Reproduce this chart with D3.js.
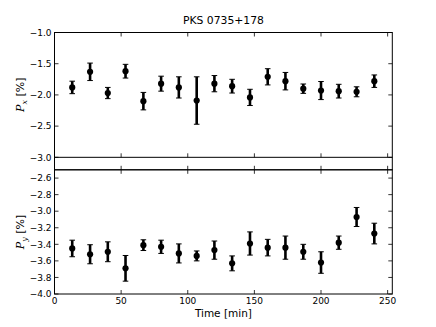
<!DOCTYPE html>
<html><head><meta charset="utf-8">
<script src="https://cdn.jsdelivr.net/npm/d3@7/dist/d3.min.js"></script>
<style>
body{margin:0;background:#fff;}
text{font-family:"DejaVu Sans",sans-serif;fill:#000;}
</style></head>
<body><svg id="c" width="436" height="327"></svg>
<script>
const times = [13.3, 26.7, 40, 53.3, 66.7, 80, 93.3, 106.7, 120, 133.3, 146.7, 160, 173.3, 186.7, 200, 213.3, 226.7, 240];
const px = [-1.88, -1.63, -1.97, -1.62, -2.10, -1.82, -1.88, -2.09, -1.82, -1.86, -2.04, -1.71, -1.78, -1.90, -1.93, -1.94, -1.95, -1.78];
const pxErr = [0.10, 0.14, 0.09, 0.11, 0.14, 0.12, 0.17, 0.38, 0.13, 0.11, 0.13, 0.13, 0.14, 0.075, 0.145, 0.11, 0.08, 0.10];
const py = [-3.45, -3.52, -3.49, -3.69, -3.41, -3.43, -3.51, -3.54, -3.47, -3.63, -3.39, -3.44, -3.44, -3.49, -3.62, -3.38, -3.07, -3.27];
const pyErr = [0.10, 0.115, 0.12, 0.155, 0.065, 0.08, 0.115, 0.06, 0.11, 0.09, 0.14, 0.10, 0.14, 0.09, 0.13, 0.08, 0.115, 0.125];
const xTicks = [0, 50, 100, 150, 200, 250];
const pxTicks = [-1.0, -1.5, -2.0, -2.5, -3.0];
const pyTicks = [-2.6, -2.8, -3.0, -3.2, -3.4, -3.6, -3.8, -4.0];
const title = "PKS 0735+178";
const xLabel = "Time [min]";

const svg = d3.select("#c");
const L = 54.5, R = 392.3;
const x = d3.scaleLinear().domain([0, 253.5]).range([L, R]);
const yTop = d3.scaleLinear().domain([-3.2, -1.0]).range([169.8, 32.5]);
const yBot = d3.scaleLinear().domain([-4.0, -2.5]).range([294, 169.8]);
const TL = 4;

function panel(y, ticks, fmt, vals, errs, showX, sep) {
  const [y0, y1] = y.range();
  const g = svg.append("g");
  const d = vals.map((v, i) => ({t: times[i], v, e: errs[i]}));
  const eg = g.append("g");
  eg.selectAll("line.bar").data(d).join("line")
    .attr("x1", q => x(q.t)).attr("x2", q => x(q.t))
    .attr("y1", q => y(q.v - q.e)).attr("y2", q => y(q.v + q.e))
    .attr("stroke", "#000").attr("stroke-width", 2.6);
  [-1, 1].forEach(s => {
    eg.selectAll(null).data(d).join("line")
      .attr("x1", q => x(q.t) - 2.8).attr("x2", q => x(q.t) + 2.8)
      .attr("y1", q => y(q.v + s * q.e)).attr("y2", q => y(q.v + s * q.e))
      .attr("stroke", "#000").attr("stroke-width", 1);
  });
  eg.selectAll("circle").data(d).join("circle")
    .attr("cx", q => x(q.t)).attr("cy", q => y(q.v)).attr("r", 3.1).attr("fill", "#000");
  ticks.forEach(t => {
    const yy = y(t);
    g.append("line").attr("x1", L).attr("x2", L + TL).attr("y1", yy).attr("y2", yy).attr("stroke", "#000").attr("stroke-width", 0.8);
    g.append("line").attr("x1", R).attr("x2", R - TL).attr("y1", yy).attr("y2", yy).attr("stroke", "#000").attr("stroke-width", 0.8);
    g.append("text").attr("x", L - 3).attr("y", yy).attr("dy", "0.36em")
      .attr("text-anchor", "end").attr("font-size", 9).text(fmt(t));
  });
  xTicks.forEach(t => {
    const xx = x(t);
    g.append("line").attr("x1", xx).attr("x2", xx).attr("y1", y0).attr("y2", y0 - TL).attr("stroke", "#000").attr("stroke-width", 0.8);
    g.append("line").attr("x1", xx).attr("x2", xx).attr("y1", y1).attr("y2", y1 + TL).attr("stroke", "#000").attr("stroke-width", 0.8);
    if (sep !== undefined) {
      g.append("line").attr("x1", xx).attr("x2", xx).attr("y1", y(sep)).attr("y2", y(sep) - TL).attr("stroke", "#000").attr("stroke-width", 0.8);
    }
    if (showX) {
      g.append("text").attr("x", xx).attr("y", y0 + 3).attr("dy", "0.8em")
        .attr("text-anchor", "middle").attr("font-size", 9).text(d3.format("d")(t));
    }
  });
  if (sep !== undefined) {
    g.append("line").attr("x1", L).attr("x2", R).attr("y1", y(sep)).attr("y2", y(sep)).attr("stroke", "#000").attr("stroke-width", 1);
  }
  g.append("rect").attr("x", L).attr("y", y1).attr("width", R - L).attr("height", y0 - y1)
    .attr("fill", "none").attr("stroke", "#000").attr("stroke-width", 1);
  return g;
}

panel(yTop, pxTicks, d3.format(".1f"), px, pxErr, false, -3.0);
panel(yBot, pyTicks, d3.format(".1f"), py, pyErr, true);

svg.append("text").attr("x", (L + R) / 2).attr("y", 24).attr("text-anchor", "middle")
  .attr("font-size", 10.8).text(title);
svg.append("text").attr("x", (L + R) / 2).attr("y", 317).attr("text-anchor", "middle")
  .attr("font-size", 10.5).text(xLabel);

function ylab(cy, sub) {
  const t = svg.append("text").attr("transform", `translate(24,${cy}) rotate(-90)`)
    .attr("text-anchor", "middle").attr("font-size", 11);
  t.append("tspan").attr("font-family", "DejaVu Serif").attr("font-style", "italic").text("P");
  t.append("tspan").attr("font-family", "DejaVu Serif").attr("font-style", "italic").attr("font-size", 8).attr("dy", 2.5).text(sub);
  t.append("tspan").attr("dy", -2.5).text(" [%]");
}
ylab((32.5 + 157) / 2, "x");
ylab((169.8 + 294) / 2, "y");
</script></body></html>
